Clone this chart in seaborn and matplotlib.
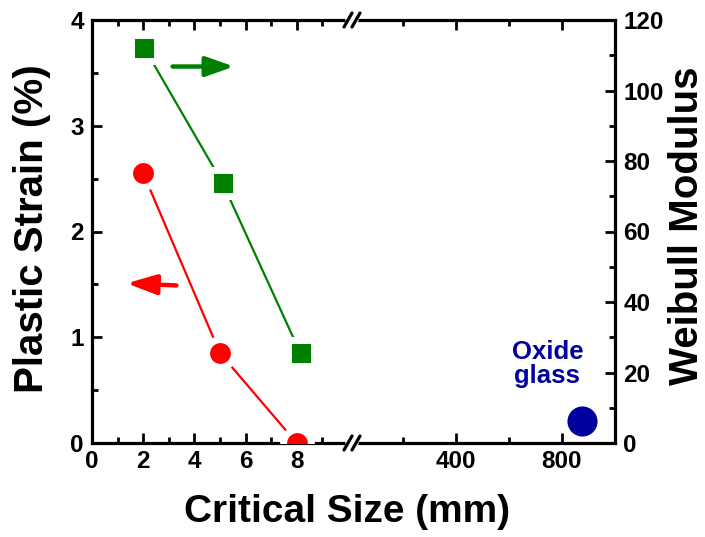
import matplotlib
matplotlib.use("Agg")
import matplotlib.pyplot as plt
import seaborn as sns
import numpy as np
from matplotlib.lines import Line2D

# ---- data ----
size_strain = [2, 5, 8]
plastic_strain = [2.55, 0.85, 0.0]
size_weibull = [2.05, 5.1, 8.15]
weibull_modulus = [112, 73.8, 25.4]
oxide_size = [875]
oxide_weibull = [6.2]
left_xticks = [0, 2, 4, 6, 8]
right_xticks = [400, 800]
strain_ticks = [0, 1, 2, 3, 4]
weibull_ticks = [0, 20, 40, 60, 80, 100, 120]

sns.set_style("ticks")
plt.rcParams['font.family'] = ['Liberation Sans', 'DejaVu Sans']
plt.rcParams['font.weight'] = 'bold'
for k in ('text.color', 'xtick.color', 'ytick.color', 'axes.labelcolor', 'axes.edgecolor'):
    plt.rcParams[k] = 'black'

W, H = 705, 537
fig = plt.figure(figsize=(W / 100, H / 100), dpi=100)

L, B, R, T, BRK = 92, 443, 615, 20, 352
fb = 1 - B / H
fh = (B - T) / H
ax1 = fig.add_axes([L / W, fb, (BRK - L) / W, fh])
ax2 = fig.add_axes([BRK / W, fb, (R - BRK) / W, fh])
ax1w = ax1.twinx()
ax2w = ax2.twinx()

RED = '#FF0000'
GREEN = '#008000'
NAVY = '#00009C'

# red series: plastic strain
sns.lineplot(x=size_strain, y=plastic_strain, ax=ax1, color=RED, lw=1.6, zorder=2)
sns.scatterplot(x=size_strain, y=plastic_strain, ax=ax1, color=RED, marker='o',
                s=400, edgecolor='white', linewidth=5, zorder=3)
# green series: Weibull modulus
sns.lineplot(x=size_weibull, y=weibull_modulus, ax=ax1w, color=GREEN, lw=1.6, zorder=2)
sns.scatterplot(x=size_weibull, y=weibull_modulus, ax=ax1w, color=GREEN, marker='s',
                s=330, edgecolor='white', linewidth=5, zorder=3)
# oxide glass
sns.scatterplot(x=oxide_size, y=oxide_weibull, ax=ax2w, color=NAVY, marker='o',
                s=470, edgecolor=NAVY, linewidth=0, zorder=3)
ax2w.text(745, 22.5, "Oxide\nglass", color=NAVY, fontsize=18.5, fontweight='bold',
          ha='center', va='center', linespacing=1.0)

# limits
ax1.set_xlim(0, 10.16)
ax1.set_ylim(0, 4)
ax1w.set_ylim(0, 120)
ax2.set_xlim(8, 1000)
ax2.set_ylim(0, 4)
ax2w.set_ylim(0, 120)

lw_sp = 2.3
tick_kw = dict(direction='in', width=2.0, labelsize=17.5, colors='black')
for a in (ax1, ax2, ax1w, ax2w):
    for s in a.spines.values():
        s.set_linewidth(lw_sp)
        s.set_color('black')
    a.set_xlabel('')
    a.set_ylabel('')
    a.patch.set_visible(False)

# ax1
ax1.spines['right'].set_visible(False)
ax1.set_xticks(left_xticks)
ax1.set_xticks([1, 3, 5, 7, 9], minor=True)
ax1.set_yticks(strain_ticks)
ax1.set_yticks([0.5, 1.5, 2.5, 3.5], minor=True)
ax1.tick_params(axis='both', which='major', length=7, top=True, **tick_kw)
ax1.tick_params(axis='both', which='minor', length=4, top=True, direction='in', width=2.0, colors='black')
ax1.tick_params(axis='x', which='major', pad=5)
ax1.tick_params(axis='y', which='major', pad=6)

# ax1w (invisible scale holder)
for s in ax1w.spines.values():
    s.set_visible(False)
ax1w.set_yticks([])

# ax2
ax2.spines['left'].set_visible(False)
ax2.spines['right'].set_visible(False)
ax2.set_yticks([])
ax2.set_xticks(right_xticks)
ax2.set_xticks([200, 600], minor=True)
ax2.tick_params(axis='x', which='major', length=7, top=True, pad=5, **tick_kw)
ax2.tick_params(axis='x', which='minor', length=4, top=True, direction='in', width=2.0, colors='black')

# ax2w right axis
ax2w.spines['left'].set_visible(False)
ax2w.spines['top'].set_visible(False)
ax2w.spines['bottom'].set_visible(False)
ax2w.set_yticks(weibull_ticks)
ax2w.set_yticks(list(range(10, 120, 20)), minor=True)
ax2w.tick_params(axis='y', which='major', length=7, pad=6, **tick_kw)
ax2w.tick_params(axis='y', which='minor', length=4, direction='in', width=2.0, colors='black')

for a in (ax1, ax2, ax2w):
    for lab in a.get_xticklabels() + a.get_yticklabels():
        lab.set_fontweight('bold')

# arrows
ax1.annotate('', xy=(5.55, 3.56), xytext=(3.15, 3.56),
             arrowprops=dict(arrowstyle='-|>,head_length=0.85,head_width=0.3',
                             color=GREEN, lw=3.2, mutation_scale=20, shrinkA=0, shrinkB=0))
ax1.annotate('', xy=(1.35, 1.51), xytext=(3.3, 1.49),
             arrowprops=dict(arrowstyle='-|>,head_length=0.9,head_width=0.3',
                             color=RED, lw=3.2, mutation_scale=20, shrinkA=0, shrinkB=0))

# axis break marks
def brk(ypix):
    yc = 1 - ypix / H
    gap = [(BRK - 4) / W, (BRK + 4) / W]
    fig.add_artist(Line2D(gap, [yc, yc], color='white', lw=4, transform=fig.transFigure, zorder=10))
    for cx in (BRK - 4, BRK + 4):
        fig.add_artist(Line2D([(cx - 4) / W, (cx + 4) / W], [yc - 7 / H, yc + 7 / H],
                              color='black', lw=2.3, transform=fig.transFigure, zorder=11,
                              solid_capstyle='round'))
brk(T)
brk(B)

# axis labels
fig.text(347 / W, 1 - 512 / H, 'Critical Size (mm)', fontsize=28, fontweight='bold',
         ha='center', va='center')
fig.text(32 / W, 1 - 228.5 / H, 'Plastic Strain (%)', fontsize=29, fontweight='bold',
         ha='center', va='center', rotation=90)
fig.text(687 / W, 1 - 225.5 / H, 'Weibull Modulus', fontsize=29, fontweight='bold',
         ha='center', va='center', rotation=90)

fig.savefig('out.png', dpi=100)
